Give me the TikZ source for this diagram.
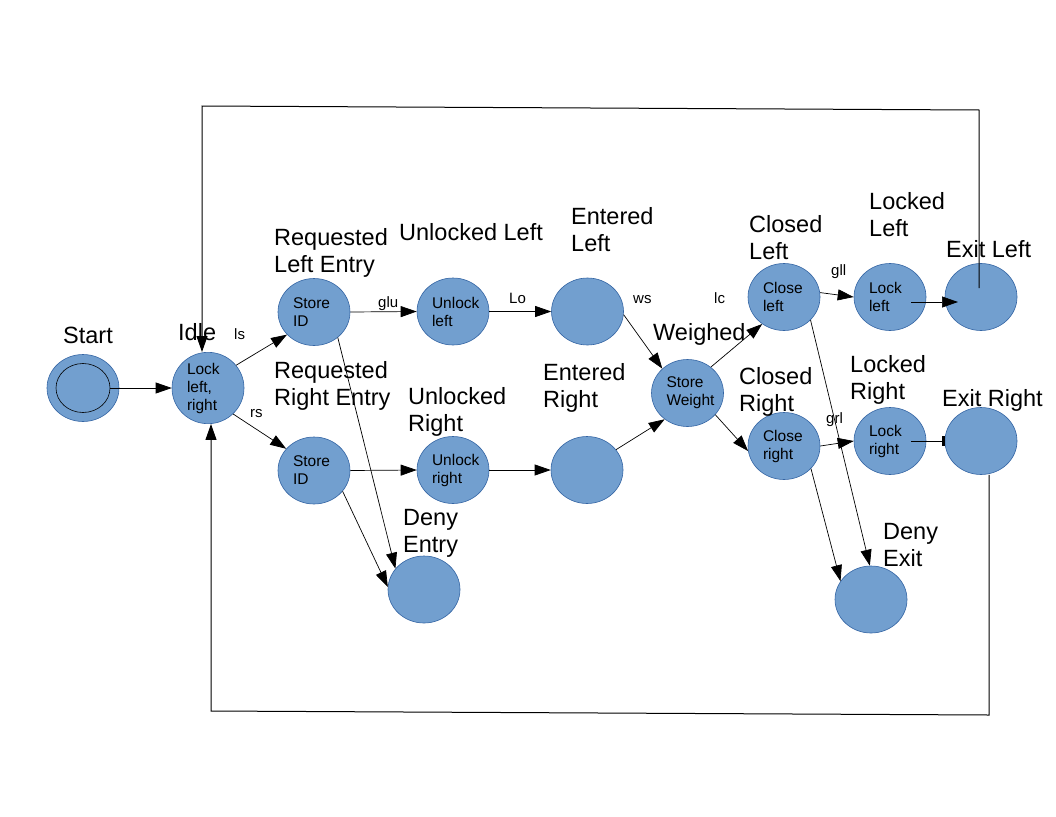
\documentclass[tikz,border=0pt]{standalone}
\usepackage{fontspec}
\setmainfont{Liberation Sans}
\usetikzlibrary{shapes.geometric,arrows.meta,calc}
\hyphenpenalty=10000
\definecolor{stfill}{HTML}{729FCF}
\definecolor{stdraw}{HTML}{3465A4}
\begin{document}
\begin{tikzpicture}[x=1pt,y=-1pt,
  st/.style={ellipse,draw=stdraw,fill=stfill,line width=0.6pt,minimum width=72pt,minimum height=67pt,inner sep=0pt,text width=42pt,align=left,font=\fontsize{15.5}{18}\selectfont},
  big/.style={anchor=north west,inner sep=0pt,align=left,font=\fontsize{23.5}{27.5}\selectfont},
  sm/.style={anchor=base west,inner sep=0pt,font=\fontsize{15}{17}\selectfont},
  arr/.style={-{Triangle[length=16pt,width=11pt]},line width=0.7pt},
  looparr/.style={-{Triangle[length=16pt,width=11pt]},line width=1pt}]
\useasboundingbox (0,0) rectangle (1056,816);
\fill[white] (0,0) rectangle (1056,816);
% states
\node[st] (start) at (83,388) {};
\node[ellipse,draw=black,line width=0.6pt,minimum width=54pt,minimum height=49pt,inner sep=0pt] (startin) at (83,388) {};
\node[st] (idle) at (208,388) {Lock\\left,\\right};
\node[st] (sl) at (314,312) {Store\\ID};
\node[st] (sr) at (314,470.5) {Store\\ID};
\node[st] (ul) at (453,311.5) {Unlock\\left};
\node[st] (el) at (587.5,311.5) {};
\node[st] (sw) at (687.5,393) {Store\\Weight};
\node[st] (ur) at (453,470) {Unlock\\right};
\node[st] (er) at (587,470) {};
\node[st] (cl) at (784,297) {Close\\left};
\node[st] (ll) at (890,297) {Lock\\left};
\node[st] (xl) at (981,297) {};
\node[st] (cr) at (784,446) {Close\\right};
\node[st] (lr) at (890,441) {Lock\\right};
\node[st] (xr) at (981,441) {};
\node[st] (de) at (424,589.5) {};
\node[st] (dx) at (871,599.5) {};
% state names
\node[big] (lstart) at (63,327) {Start};
\node[big] (lidle) at (178,323) {Idle};
\node[big] (lrle) at (274,228) {Requested\\Left Entry};
\node[big] (lrre) at (274,361) {Requested\\Right Entry};
\node[big] (lul) at (399,223) {Unlocked Left};
\node[big] (lur) at (408,387) {Unlocked\\Right};
\node[big] (lel) at (571,207) {Entered\\Left};
\node[big] (ler) at (543,363) {Entered\\Right};
\node[big] (lw) at (653,323) {Weighed};
\node[big] (lcl) at (749,215) {Closed\\Left};
\node[big] (lcr) at (739,367) {Closed\\Right};
\node[big] (lll) at (869,192) {Locked\\Left};
\node[big] (llr) at (850,355) {Locked\\Right};
\node[big] (lxl) at (946,240) {Exit Left};
\node[big] (lxr) at (942,389) {Exit Right};
\node[big] (lde) at (403,509) {Deny\\Entry};
\node[big] (ldx) at (883,523) {Deny\\Exit};
% transition labels
\node[sm] (tls) at (234,339) {ls};
\node[sm] (trs) at (250,417) {rs};
\node[sm] (tglu) at (378,307) {glu};
\node[sm] (tlo) at (509,303) {Lo};
\node[sm] (tws) at (633,303) {ws};
\node[sm] (tlc) at (714,303) {lc};
\node[sm] (tgll) at (831,275) {gll};
\node[sm] (tgrl) at (826,423) {grl};
% transitions
\draw[arr] (startin.east) -- (idle.west);
\draw[arr] (idle.39) -- (sl.220);
\draw[arr] (idle.-46) -- (sr.142);
\draw[arr] (sl.east) -- (ul.west);
\draw[arr] (sl.-47) -- (de.144);
\draw[arr] (sr.east) -- (ur.west);
\draw[arr] (sr.-36) -- (de.176);
\draw[arr] (ul.east) -- (el.west);
\draw[arr] (ur.east) -- (er.west);
\draw[arr] (el.-5) -- (sw.136);
\draw[arr] (er.35) -- (sw.229);
\draw[arr] (sw.48) -- (cl.231);
\draw[arr] (sw.-38) -- (cr.188);
\draw[arr] (cl.7) -- (ll.west);
\draw[arr] (cr.east) -- (lr.west);
\draw[arr] ($(ll)+(21,5)$) -- ($(xl)+(-23,5)$);
\draw[-{Bar[width=10pt,line width=2.5pt]},line width=0.7pt] ($(lr)+(21,0)$) -- (xr.west);
\draw[arr] (cl.-41) -- (dx.92);
\draw[arr] (cr.-40) -- (dx.149);
% return loops
\coordinate (t1) at (979,110);
\coordinate (t2) at (202,106);
\draw[looparr] ($(xl)+(-2,-9)$) -- (t1) -- (t2) -- (t2 |- idle.north);
\coordinate (b1) at (989,715);
\coordinate (b2) at (211,711);
\draw[looparr] ($(xr.south)+(8,0)$) -- (b1) -- (b2) -- (b2 |- idle.south);
\end{tikzpicture}
\end{document}
